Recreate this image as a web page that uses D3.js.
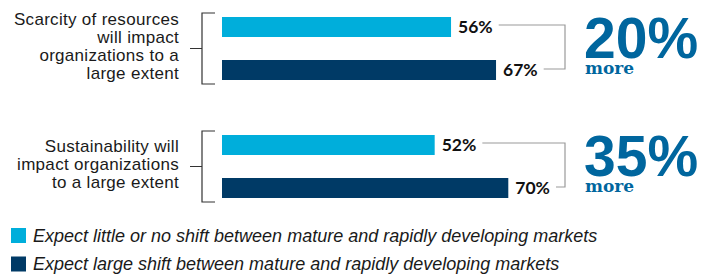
<!doctype html>
<html lang="en">
  <head>
    <meta charset="utf-8">
    <title>Shift between mature and rapidly developing markets</title>
    <script src="https://d3js.org/d3.v7.min.js"></script>
    <style>
      body { margin: 0; background: #fff; }
      svg { display: block; }
    </style>
  </head>
  <body>
    <div id="chart"></div>
    <script>

      // data
      const categories = ["resources", "sustainability"];
      const categoryLines = [
        ["Scarcity of resources", "will impact", "organizations to a", "large extent"],
        ["Sustainability will", "impact organizations", "to a large extent"]
      ];
      const seriesNames = [
        "Expect little or no shift between mature and rapidly developing markets",
        "Expect large shift between mature and rapidly developing markets"
      ];
      const littleShift = [56, 52];
      const largeShift = [67, 70];
      const differences = ["20%", "35%"];
      const colors = ["#00aedb", "#003a66"];

      const width = 718, height = 277;

      const svg = d3.select("#chart")
        .append("svg")
          .attr("width", width)
          .attr("height", height);

      // scales
      const x = d3.scaleLinear()
        .domain([0, 100])
        .range([222, 631]);

      const y0 = d3.scalePoint()
        .domain(categories)
        .range([17, 135]);

      const y1 = d3.scaleBand()
        .domain([0, 1])
        .range([0, 63])
        .paddingInner(0.535);

      const rows = categories.map((c, i) => ({
        cat: c,
        lines: categoryLines[i],
        values: [littleShift[i], largeShift[i]],
        diff: differences[i]
      }));

      const groups = svg.selectAll("g.group")
        .data(rows)
        .enter()
        .append("g")
          .attr("class", "group")
          .attr("transform", d => `translate(0,${y0(d.cat)})`);

      // bars
      groups.selectAll("rect")
        .data(d => d.values)
        .enter()
        .append("rect")
          .attr("x", x(0))
          .attr("y", (d, i) => y1(i))
          .attr("width", d => x(d) - x(0))
          .attr("height", y1.bandwidth())
          .attr("fill", (d, i) => colors[i]);

      // value labels
      groups.selectAll("text.val")
        .data(d => d.values)
        .enter()
        .append("text")
          .attr("class", "val")
          .attr("x", d => x(d) + 7)
          .attr("y", (d, i) => y1(i) + y1.bandwidth() / 2 + 6)
          .attr("font-family", "Lato, 'Liberation Sans', sans-serif")
          .attr("font-weight", 700)
          .attr("font-size", "17.5px")
          .attr("fill", "#111")
          .text(d => d + "%");

      // left bracket
      const bTop = -4, bBottom = y1(1) + y1.bandwidth() + 4;
      const bMid = (bTop + bBottom) / 2;
      groups.append("path")
        .attr("d", `M215,${bTop}H202V${bBottom}H215M202,${bMid}H190`)
        .attr("fill", "none")
        .attr("stroke", "#333")
        .attr("stroke-width", 1.2);

      // category labels
      groups.append("text")
        .attr("text-anchor", "end")
        .attr("font-family", "'Liberation Sans', Arial, sans-serif")
        .attr("font-size", "17px")
        .attr("letter-spacing", "0.3px")
        .attr("fill", "#1a1a1a")
        .selectAll("tspan")
        .data(d => d.lines.map((l, i) => ({ l, i, n: d.lines.length })))
        .enter()
        .append("tspan")
          .attr("x", 179)
          .attr("y", d => bMid + 3 + (d.i - (d.n - 1) / 2) * 18)
          .text(d => d.l);

      // right connector
      const vx = 565;
      groups.each(function(d) {
        const g = d3.select(this);
        const labels = g.selectAll("text.val").nodes();
        const e0 = labels[0].getComputedTextLength() + x(d.values[0]) + 7;
        const e1 = labels[1].getComputedTextLength() + x(d.values[1]) + 7;
        const ya = y1(0) + y1.bandwidth() / 2 - 2;
        const yb = y1(1) + y1.bandwidth() / 2 - 1;
        g.append("path")
          .attr("d", `M${e0 + 6},${ya}H${vx}V${yb}H${e1 + 6}`)
          .attr("fill", "none")
          .attr("stroke", "#9a9a9a")
          .attr("stroke-width", 1.2);
      });

      // big difference number with "more" underneath, one text block
      const pairMid = (y1(0) + y1(1) + y1.bandwidth()) / 2;
      const big = groups.append("text")
        .attr("fill", "#00669e")
        .attr("font-weight", 700);

      big.append("tspan")
        .attr("x", 584)
        .attr("y", pairMid + 9.5)
        .attr("font-family", "'Liberation Sans', Arial, sans-serif")
        .attr("font-size", "57px")
        .text(d => d.diff);

      big.append("tspan")
        .attr("x", 585)
        .attr("y", pairMid + 25.5)
        .attr("font-family", "'DejaVu Serif', serif")
        .attr("font-size", "17px")
        .text("more");

      // legend
      const legend = svg.selectAll("g.legend")
        .data(seriesNames)
        .enter()
        .append("g")
          .attr("class", "legend")
          .attr("transform", (d, i) => `translate(11,${228 + i * 28.5})`);

      legend.append("rect")
        .attr("width", 15)
        .attr("height", 15)
        .attr("fill", (d, i) => colors[i]);

      legend.append("text")
        .attr("x", 22)
        .attr("y", 13.5)
        .attr("font-family", "'Liberation Sans', Arial, sans-serif")
        .attr("font-style", "italic")
        .attr("font-size", "18px")
        .attr("fill", "#1a1a1a")
        .text(d => d);

    </script>
  </body>
</html>
